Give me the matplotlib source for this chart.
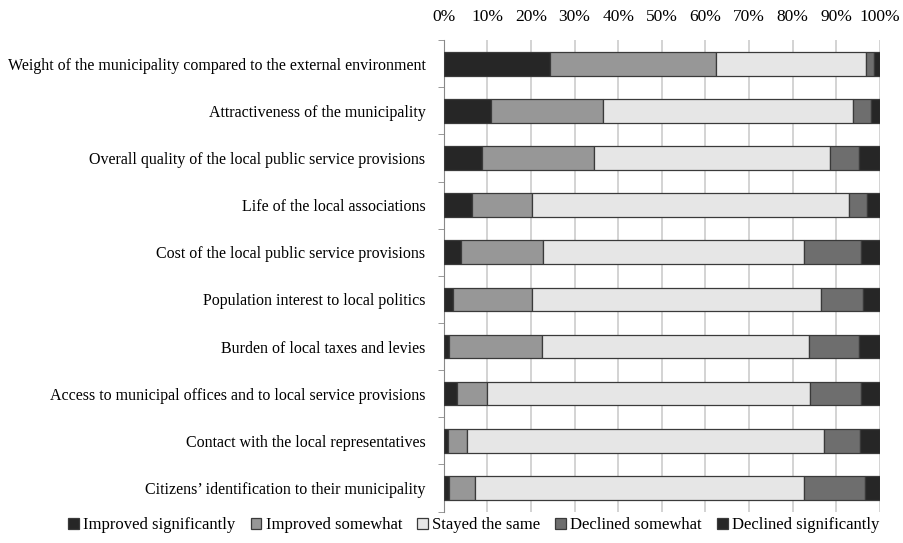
import numpy as np
import matplotlib
matplotlib.use("Agg")
import matplotlib.pyplot as plt

plt.rcParams['font.family'] = ['Liberation Serif', 'DejaVu Serif']

categories = [
    "Weight of the municipality compared to the external environment",
    "Attractiveness of the municipality",
    "Overall quality of the local public service provisions",
    "Life of the local associations",
    "Cost of the local public service provisions",
    "Population interest to local politics",
    "Burden of local taxes and levies",
    "Access to municipal offices and to local service provisions",
    "Contact with the local representatives",
    "Citizens\u2019 identification to their municipality",
]

improved_sig = [24.4, 10.8, 8.9, 6.4, 3.9, 2.1, 1.3, 3.0, 0.9, 1.2]
improved_some = [38.0, 25.8, 25.6, 13.8, 18.8, 18.1, 21.2, 7.0, 4.4, 6.1]
stayed_same = [34.3, 57.2, 54.1, 72.7, 59.8, 66.2, 61.2, 73.9, 81.9, 75.2]
declined_some = [1.9, 4.2, 6.6, 4.0, 13.2, 9.6, 11.5, 11.8, 8.2, 14.0]
declined_sig = [1.4, 2.0, 4.8, 3.1, 4.3, 4.0, 4.8, 4.3, 4.6, 3.5]

series_names = ["Improved significantly", "Improved somewhat", "Stayed the same",
                "Declined somewhat", "Declined significantly"]
series = [improved_sig, improved_some, stayed_same, declined_some, declined_sig]
colors = ["#262626", "#979797", "#e6e6e6", "#6e6e6e", "#262626"]

fig = plt.figure(figsize=(9.04, 5.43), dpi=100)
ax = fig.add_axes([0.4907, 0.058, 0.4828, 0.868])

y = np.arange(len(categories))
left = np.zeros(len(categories))
for name, vals, col in zip(series_names, series, colors):
    vals = np.array(vals)
    ax.barh(y, vals, left=left, height=0.5, color=col, edgecolor="#3a3a3a",
            linewidth=0.9, label=name, zorder=3)
    left += vals

ax.set_xlim(0, 100)
ax.set_ylim(len(categories) - 0.5, -0.5)
ax.set_xticks(np.arange(0, 101, 10))
ax.set_xticklabels([f"{v}%" for v in range(0, 101, 10)], fontsize=12.5)
ax.xaxis.tick_top()
ax.tick_params(axis='x', length=0, pad=11)
ax.grid(axis='x', color="#cccccc", linewidth=1.2, zorder=0)

ax.set_yticks(y)
ax.set_yticklabels(categories, fontsize=11.5)
ax.set_yticks(np.arange(-0.5, len(categories), 1), minor=True)
ax.tick_params(axis='y', which='major', length=0, pad=13)
ax.tick_params(axis='y', which='minor', length=4, color="#888888")

for s in ['top', 'right', 'bottom']:
    ax.spines[s].set_visible(False)
ax.spines['left'].set_color("#888888")

fig.legend(loc='center', bbox_to_anchor=(0.524, 0.033), ncol=5, frameon=False,
           fontsize=12, handlelength=0.65, handleheight=0.65, handletextpad=0.25,
           columnspacing=0.9, borderaxespad=0)

fig.savefig("out.png", dpi=100)
